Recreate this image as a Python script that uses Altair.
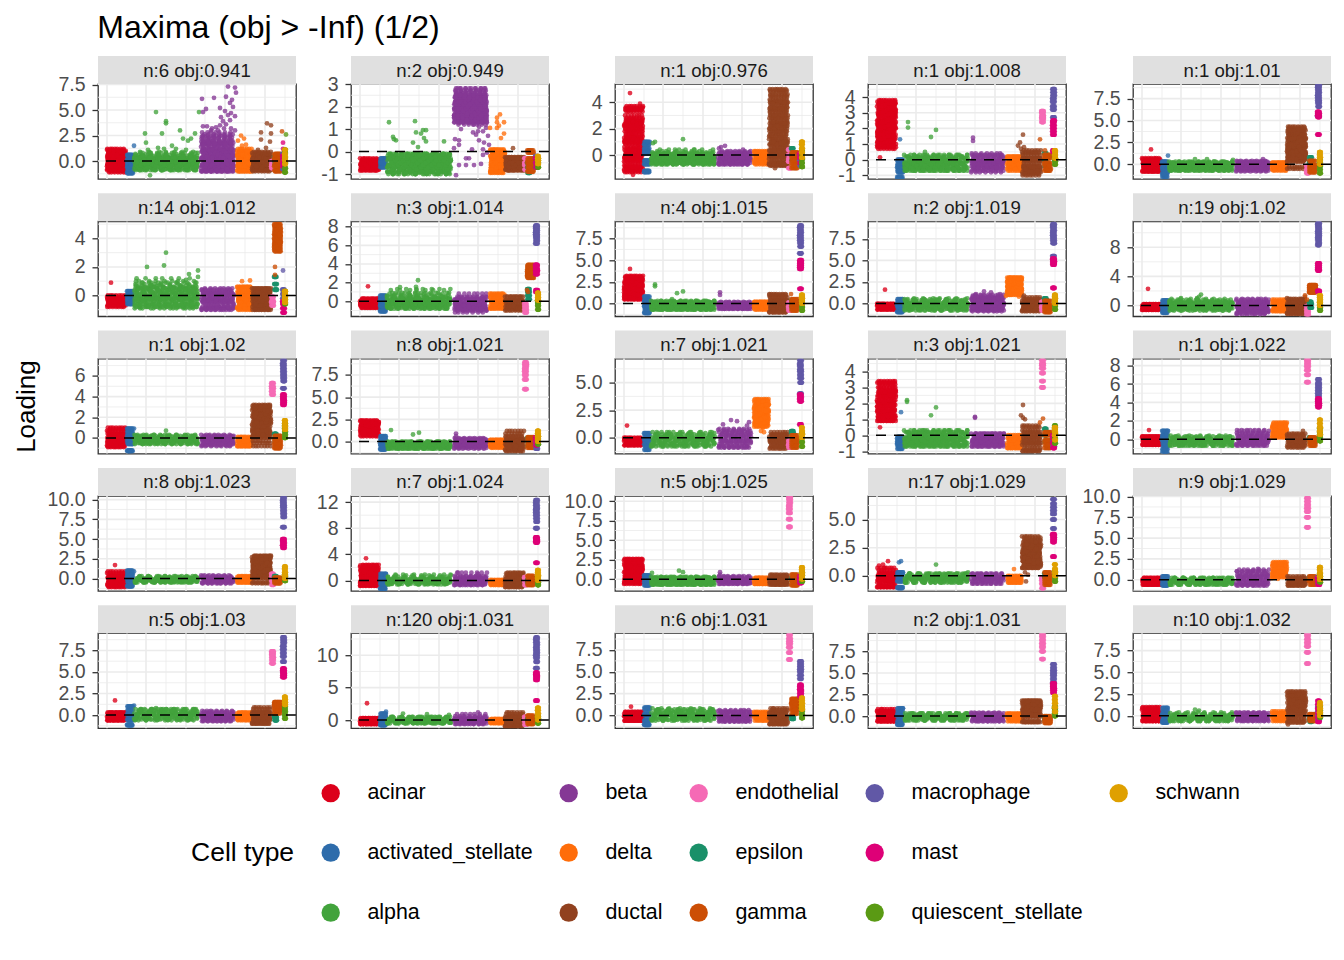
import altair as alt
import pandas as pd

TYPES = ["acinar","activated_stellate","alpha","beta","delta","ductal","endothelial","epsilon","gamma","macrophage","mast","quiescent_stellate","schwann"]
COLORS = ["#DC001A","#2E6CAB","#42A33C","#853895","#FF6D0A","#91411F","#F56AB5","#1A9069","#CC4E05","#6158A6","#DE0077","#5A9A14","#DFA000"]
# the blank entry holds the empty fifth place of the legend's second row
LEGEND_ORDER = ["acinar","beta","endothelial","macrophage","schwann","activated_stellate","delta","epsilon","mast"," ","alpha","ductal","gamma","quiescent_stellate"]
LEGEND_COLORS = [COLORS[TYPES.index(t)] if t in TYPES else "rgba(0,0,0,0)" for t in LEGEND_ORDER]
# cell-index span of each type along the (hidden) x axis
SPAN = {"acinar":(9,28),"activated_stellate":(29,35),"alpha":(36,100),"beta":(103,136),"delta":(139,154),"ductal":(154,173),
        "endothelial":(173,176),"epsilon":(176,179),"gamma":(176,183),"macrophage":(184,187),"mast":(184,187),"quiescent_stellate":(186,188),"schwann":(186,188)}
PHASES = [0,.17,.31,.47,.57,.71,.83]

BG = {
"acinar":[-.5,-.1,.2,-.3,-.7,-.4,.1,.3,-.2,-.6,-.3,.2,0,-.4,-.7,-.2,.1,-.5],
"activated_stellate":[-.3,-.8,-1.1,-.5,.2,.6,.1,-.6,-1,-.3,.4,-.1],
"alpha":[-.5,-.1,.2,-.3,-.7,-.4,0,.3,-.2,-.6,-.3,.1,-.1,-.5,-.7,-.2,.2,-.4,-.6,-.1,.1,-.3,-.7,-.4,0,.3,-.2,-.6,-.3,.1,-.1,-.5,-.7,-.3,.2,-.2,-.6,-.4,.1,-.1,-.5,-.7,-.2,.2,-.3,-.6,0,.3],
"beta":[-.4,0,.3,-.2,-.7,-.5,-.1,.4,0,-.5,-.8,-.3,.2,-.1,-.6,-.4,.1,.3,-.3,-.7,-.2,.2,-.5,-.1],
"delta":[-.5,-.1,.2,-.3,-.7,-.2,.1,-.4,-.6,0,.2,-.3],
"ductal":[-.7,-.2,.3,.1,-.5,-.9,-.4,.2,.6,0,-.6,-.8,-.1,.4],
"endothelial":[-.7,-.3,0,-.5],"epsilon":[-.4,0,.4],"gamma":[-.6,-.2,.2,-.4,0,.4,-.2,-.7],
"macrophage":[-.6,-.3,0,.3],"mast":[-.5,-.2,.2,.5],"quiescent_stellate":[-.7,-.3,0,.3,.6,.9],"schwann":[.1,.4,.7,1,1.3,.8],
}

TITLES = ["n:6 obj:0.941","n:2 obj:0.949","n:1 obj:0.976","n:1 obj:1.008","n:1 obj:1.01","n:14 obj:1.012","n:3 obj:1.014","n:4 obj:1.015","n:2 obj:1.019","n:19 obj:1.02",
"n:1 obj:1.02","n:8 obj:1.021","n:7 obj:1.021","n:3 obj:1.021","n:1 obj:1.022","n:8 obj:1.023","n:7 obj:1.024","n:5 obj:1.025","n:17 obj:1.029","n:9 obj:1.029",
"n:5 obj:1.03","n:120 obj:1.031","n:6 obj:1.031","n:2 obj:1.031","n:10 obj:1.032"]
DOMAINS = [(-1.76,7.55),(-1.22,3.0),(-1.82,5.39),(-1.23,4.83),(-1.67,9.17),(-1.46,5.2),(-1.62,8.58),(-1.47,9.5),(-1.48,9.53),(-1.48,11.57),
(-1.52,7.68),(-1.35,9.34),(-1.45,7.18),(-1.15,4.81),(-1.56,8.76),(-1.57,10.47),(-1.59,12.95),(-1.5,10.69),(-1.34,7.1),(-1.35,10.08),
(-1.52,9.5),(-1.25,13.4),(-1.46,9.42),(-1.4,9.6),(-1.43,9.5)]
T25 = [0,2.5,5,7.5]
TICKS = [T25,[-1,0,1,2,3],[0,2,4],[-1,0,1,2,3,4],T25,[0,2,4],[0,2,4,6,8],T25,T25,[0,4,8],
[0,2,4,6],T25,[0,2.5,5],[-1,0,1,2,3,4],[0,2,4,6,8],[0,2.5,5,7.5,10],[0,4,8,12],[0,2.5,5,7.5,10],[0,2.5,5],[0,2.5,5,7.5,10],
T25,[0,5,10],T25,T25,T25]
GRID_MAJOR_X = [9,48,88,127,167]
GRID_MINOR_X = [29,68,107,147,187]

Y = [{} for _ in TITLES]
OUT = [{} for _ in TITLES]

Y[0] = {
"acinar":[-.9,-.3,.3,.9,.4,-.2,-.8,-.4,.2,.8,1.1,.5,-.1,-.7,-1.1,-.5,.1,.7,1,.4,-.2,-.8,-.5,0,.6,1.2,.6,0,-.6,-1,-.4,.3,.9,.3,-.3,-.9],
"activated_stellate":[-1.1,-.5,.1,.5,-.2,-.8,-1.2,-.6,0,.6,.2,-.4,-1],
"alpha":[-.8,-.4,0,.4,.1,-.3,-.7,-.9,-.5,-.1,.3,.7,.2,-.2,-.6,-.9,-.4,0,.5,.1,-.3,-.8,-.6,-.2,.3,.8,.4,0,-.4,-.8,-.5,-.1,.3,.6,.2,-.2,-.7,-.9,-.4,.1,.5,.2,-.3,-.7,-.5,0,.4,.8,.3,-.1,-.6,-.9,-.3,.2,.6,.9,.4,-.2,-.7,-.5],
"beta":[-1,-.4,.3,1,1.8,1.2,.5,-.2,-.8,-.5,.2,.9,1.6,2.3,1.5,.7,0,-.7,-1,-.3,.4,1.2,2,2.6,1.8,1,.2,-.5,-1,-.4,.3,1.1,1.9,2.4,1.7,.8,0,-.7,-.9,-.2,.6,1.4,2.2,2.8,2,1.2,.4,-.4,-1,-.5,.3,1,1.7,2.5,1.6,.8,0,-.8,-.3,.5],
"delta":[-.9,-.3,.3,.9,.5,-.1,-.7,-1,-.4,.2,.8,1.2,.6,0,-.6,-1,-.5,.1,.7,1,.4,-.2,-.8],
"ductal":[-.9,-.4,.2,.7,.2,-.3,-.8,-1,-.5,.1,.6,.9,.3,-.3,-.8,-.6,-.1,.4,.8,.2,-.4,-.9],
"gamma":[-.9,-.4,.2,.6,.1,-.5,-1,-.3,.3,.7],"macrophage":[-.8,-.3,.2,.7],"quiescent_stellate":[-1.1,-.7,-.2,.3,.8,1.1],"schwann":[-.3,.1,.4,.7,1.1],
}
OUT[0] = {
"alpha":[(58,4.8),(68,3.9),(68,3.7),(47,2.7),(64,2.7),(82,3),(85,2.2),(90,2),(93,2.2),(97,2.7),(101,4.8),(48,1.8),(66,1.2),(74,1.5),(52,-1.4),(50,1.1),(60,1.3),(78,1.2),(88,1.1)],
"activated_stellate":[(36,1.5)],
"beta":[(104,6.1),(116,6.2),(130,7.3),(137,7.2),(138,6.7),(105,4.8),(108,5.1),(122,5.2),(128,6.3),(132,5.7),(135,5.3),(133,4.7),(127,4.9),(137,4.4),(132,4),(123,4.3),(125,3.9),(128,3.6),(109,3.4),(114,3.2),(118,3.3),(122,3.5),(105,3.4),(113,3),(120,3),(133,3.2),(137,3),(130,4.5),(134,6),(126,3.2)],
"delta":[(143,2.5),(146,2.2),(140,2),(148,1.6),(144,1.5)],
"ductal":[(169,3.7),(173,3.5),(163,2.8),(173,2.7),(163,2.1),(172,1.9),(168,1.3),(160,1.1)],
"mast":[(185,1.8),(185,1.2)],"gamma":[(184,2.9)],"quiescent_stellate":[(188,2.6)],
}
Y[1] = {
"acinar":[-.8,-.6,-.4,-.55,-.75,-.85,-.5,-.35,-.6,-.8,-.7,-.45,-.3,-.55,-.8,-.6,-.4,-.7],
"activated_stellate":[-.6,-.4,-.3,-.5,-.7,-.45],
"alpha":[-.9,-.6,-.3,-.1,-.4,-.7,-1,-.8,-.5,-.2,-.1,-.4,-.7,-.9,-.6,-.3,-.15,-.5,-.8,-1,-.7,-.4,-.1,-.3,-.6,-.9,-.8,-.5,-.2,-.1,-.4,-.7,-1,-.6,-.3,-.2,-.5,-.8,-.9,-.6,-.3,-.1,-.4,-.7,-1,-.8,-.5,-.2,-.15,-.4,-.7,-.9,-.6,-.3,-.1,-.5,-.8,-.95,-.7,-.4,-.2,-.3,-.6,-.9,-.8,-.5,-.25,-.4,-.7,-.9,-.6,-.3],
"beta":[1.3,1.6,1.9,2.2,2.6,2.3,2,1.7,1.4,1.2,1.5,1.8,2.1,2.4,2.7,2.4,2.1,1.8,1.5,1.3,1.6,1.9,2.2,2.5,2.8,2.5,2.2,1.9,1.6,1.3,1.5,1.8,2.1,2.4,2.7,2.5,2.2,1.9,1.6,1.4,1.7,2,2.3,2.6,2.8,2.4,2.1,1.8,1.5,1.3,1.6,1.9,2.2,2.5,2.3,2,1.7,1.4,1.6,1.9,2.2,2.4,2.1,1.8,1.5,1.7,2,2.3,1.9,1.6],
"delta":[-.9,-.6,-.3,0,-.2,-.5,-.8,-.95,-.6,-.3,.05,-.2,-.5,-.8,-.7,-.4,-.1,.1,-.3,-.6,-.9,-.7,-.4,-.1],
"ductal":[-.8,-.6,-.4,-.25,-.4,-.6,-.8,-.7,-.5,-.3,-.25,-.5,-.7,-.85,-.6,-.4,-.3,-.5,-.7,-.8],
"endothelial":[-.8,-.5,-.3,-.6],"epsilon":[-.95,-.7,-.5],"gamma":[-.9,-.6,-.3,-.05,-.4,-.7,.05,-.5,-.85],
"macrophage":[-.7,-.5,-.3,-.2],"mast":[-.7,-.5,-.3],"quiescent_stellate":[-.7,-.5,-.4,-.3],"schwann":[-.55,-.4,-.3,-.2],
}
OUT[1] = {
"alpha":[(38,1.3),(64,1.35),(42,.65),(43,.55),(45,.5),(65,.85),(72,.95),(75,.95),(70,.8),(73,.6),(62,.4),(75,.45),(67,.2),(93,.45),(64,-1),(55,-.95)],
"beta":[(105,-1.05),(103,.15),(108,.5),(108,.3),(110,1),(122,1.2),(122,.85),(128,1.1),(125,.75),(132,.9),(128,.5),(137,.7),(133,.4),(138,.3),(132,.1),(115,-.3),(118,-.3),(115,-.6),(123,-.6),(130,-.55),(108,-.6),(132,-.15),(136,-.05),(104,.55),(135,1.05),(127,.9),(121,.1)],
"delta":[(149,1.65),(146,1.5),(153,1.3),(146,1.3),(139,1.05),(146,1.05),(153,.8),(150,.6),(148,1.15)],
"ductal":[(162,.15)],
}
Y[2] = {
"acinar":[-1.2,-.2,1,2.2,3.4,2.4,1.2,0,-1,-.5,.6,1.8,3,2,.8,-.4,-1.1,-.2,1,2.4,3.5,2.6,1.4,.2,-.8,-.3,.9,2,3.6,2.2,1,-.2,-1.3,0,1.2,2.5,3.3,2.2,1.3,.4,-.6,-.9,.3,1.6,2.8,3.7,2.3,1.1,-.1,-.9,.1,1.5,2.7,1.8,.5],
"activated_stellate":[-1.2,-.6,.2,.8,.1,-.7,-1.3,-.4,.5,1,.3,-.5],
"alpha":[-.6,-.3,-.1,-.5,-.7,-.3,0,-.4,-.7,-.2,.1,-.4,-.6,-.2,0,-.5,-.7,-.3,.1,-.4,-.6,-.2,.05,-.5,-.7,-.3,.2,-.4,-.6,-.1,.1,-.5,-.7,-.3,.1,-.4,-.6,0,.2,-.3,-.6,-.2,.1,-.4,.3,-.2,.4,-.1],
"beta":[-.6,-.2,.2,-.3,-.7,-.4,0,.1,-.3,-.6,-.2,.2,-.4,-.7,-.2,.1,-.3,-.6,-.1,.3,-.4,-.7,-.2,.1],
"delta":[-.6,-.2,.2,-.4,-.7,-.1,.3,-.4,-.6,0,.2,-.3],
"ductal":[-.7,.8,2.4,4,4.8,3.4,1.8,.2,-.8,-.2,1.2,2.8,4.2,4.9,3.6,2.2,.6,-.6,0,1.5,3.2,4.5,3.9,2.5,1,-.5,-.7,.4,2,3.6,4.6,3,1.4,-.1,-.8,.8,2.2,3.8,4.4,2.8,1.2,-.3,.3,1.8,3.3,4.1,2.6,.9,-.6,.5,2,3.5,5,3,1.6,.1,-.7,1,2.4,4],
"endothelial":[-1,-.5,0,.4,-.3],"epsilon":[-.4,0,.5],"gamma":[-1,-.6,-.2,.2,-.4,-.8,0],
"macrophage":[-.8,-.4,0],"mast":[-.6,-.2,.1],"quiescent_stellate":[-.9,-.6,-.3,0,.3],"schwann":[-.2,.2,.5,.8,1],
}
OUT[2] = {"acinar":[(15,4.7),(18,-1.5),(25,3.9),(27,3.6)],"alpha":[(38,.9),(40,1),(47,.3),(68,1.2),(60,.4),(79,.4)],"beta":[(106,.6),(110,.7),(128,.4),(104,.5)],"ductal":[(160,-1)],"epsilon":[(177,.4)]}
Y[3] = {
"acinar":[.9,1.5,2.2,2.9,3.5,2.8,2.1,1.4,.8,1.1,1.8,2.5,3.2,3.6,3,2.3,1.6,.9,.7,1.3,2,2.7,3.4,3.7,3,2.3,1.6,1,.8,1.4,2.1,2.8,3.5,3.8,3.1,2.4,1.7,1.1,1.5,2.2,2.9,3.6,3.2,2.5,1.8,1.2,1.9,2.6,3.3,3.7,2.8,2],
"activated_stellate":[-1.2,-.8,-.4,0,-.3,-.7,-1.1,-.5,-.1],
"alpha":BG["alpha"],
"ductal":[-.8,-.4,.1,.5,.1,-.5,-.9,-.6,-.1,.3,.6,.1,-.4,-.8,-1,-.5,0,.4,-.2,-.7],
"gamma":[-.7,-.3,.1,.3,-.2,-.6,.2,-.4],
"endothelial":[2.4,2.6,2.8,3,3.1,2.7],"macrophage":[2.7,3.2,3.4,3.7,3.9,4.1,4.3,4.5],"mast":[1.6,1.8,2,2.2,2.4,2.5,.5,.6],
"quiescent_stellate":[-.3,-.1,.1,.3],"schwann":[.1,.3,.5,.6],
}
OUT[3] = {"alpha":[(40,2.4),(40,2.05),(68,1.9),(63,1.45),(57,.5)],"beta":[(105,1.4),(105,1.2)],"activated_stellate":[(32,1.3)],"acinar":[(12,.15)],"ductal":[(150,.9),(155,1.6),(152,1.1),(153,.7),(156,.8)],"gamma":[(172,1.3),(177,.6)]}
Y[4] = {
"acinar":[-.8,-.3,.3,.7,.1,-.6,-.8,-.2,.4,.6,0,-.7,-.4,.2,.5,-.3,-.8,.1,.4,-.5],
"activated_stellate":[-1.4,-.9,-.3,.2,-.4,-1.1,-.7,.1,.3,-.6],
"ductal":[.3,1.2,2.2,3.3,4.2,3.4,2.3,1.2,.4,.8,1.8,2.8,3.9,3,1.9,.9,.5,1.3,2.1,2.9,2.2,1.4,.7,1.1,2,3,3.8,4.3,3.4,2.3,1.3,.6,1.5,2.5,3.6,4,3,2,1,-.5,1.7,2.7,1.6,.8,-.3,2.4,1.4],
"endothelial":[-1,-.6,-.2,-.8],"epsilon":[.4,.8,.2],"gamma":[-.9,-.5,-.1,.4,-.3,-.7],
"macrophage":[5.5,6.6,7,7.3,7.6,7.9,8.2,8.5,8.8,9],"mast":[5.4,5.6,5.8,6,3.4],"quiescent_stellate":[-1,-.6,-.2,.2,.5],"schwann":[0,.4,.8,1.1,1.4],
}
OUT[4] = {"acinar":[(18,1.7)],"activated_stellate":[(35,1)],"alpha":[(62,.6),(74,.6),(100,.5)],"beta":[(130,.6)]}
Y[5] = {
"acinar":[-.7,-.4,-.1,-.3,-.6,-.8,-.5,-.2,0,-.4,-.7,-.5,-.1,-.3,-.7,-.2,-.5,-.6],
"activated_stellate":[-.6,-.3,0,.3,-.1,-.5,.1,-.4],
"alpha":[-.7,-.2,.3,-.1,-.6,-.9,-.3,.2,.6,.1,-.5,-.8,-.2,.4,.7,.1,-.6,-.9,-.4,.2,.5,0,-.5,-.8,-.3,.3,.6,0,-.6,-.8,-.2,.4,.7,.2,-.4,-.8,-.2,.5,.9,.3,-.3,-.7,-.1,.6,1,.5,-.2,-.6,0,.8,1.2,.5,-.3,-.7,.1,.9,.4,-.2],
"beta":[-.9,-.4,.1,.5,.1,-.3,-.8,-.5,0,.4,.2,-.3,-.9,-1,-.5,0,.4,.1,-.4,-.9,-.6,-.1,.3,-.2,-.7,-1,-.4,.2,-.3,-.8],
"delta":[-.9,-.4,.1,.6,.2,-.3,-.8,-1,-.5,0,.5,.3,-.2,-.7,-.9,-.3,.2,.6,0,-.6],
"ductal":[-.8,-.3,.2,.5,.1,-.5,-1,-.6,-.1,.3,.5,-.2,-.7,-1,-.4,.1,.4,-.1,-.6,-.9],
"endothelial":[-.7,-.4,-.1,-.5],"gamma":[3.2,3.7,4.2,4.7,5,4.5,4,3.5,3.1,3.4,3.9,4.4,4.9,4.6,4.1,3.6,3.3,3.8,4.3,4.8,4.2,3.7],
"epsilon":[.4,.8,1.3],"macrophage":[-.5,-.2,.1,.4],"mast":[-1.2,-.9,-.6,-.4],"schwann":[-.5,-.3,-.1,.1,.3],"quiescent_stellate":[-.6,-.3,0,.3],
}
OUT[5] = {"acinar":[(13,.9)],"alpha":[(49,2),(66,2.1),(68,3),(53,.75),(59,.65),(38,1),(100,1.75),(91,1.5),(80,1),(88,1.1),(100,1.3)],"delta":[(152,1.05),(144,1)],"gamma":[(177,2),(177,1.45)],"macrophage":[(185,1.75)]}
Y[6] = {
"alpha":[-.7,-.3,.1,-.2,-.6,-.8,-.4,0,.3,-.2,-.6,-.7,-.2,.2,.5,0,-.5,-.8,-.3,.1,.4,-.1,-.6,-.7,-.3,.2,.6,.1,-.4,-.8,-.3,.3,.7,.2,-.4,-.7,-.1,.5,.9,.3,-.3,-.6,.1,.8,1.2,.5,-.2,.2,.9,1.3],
"beta":[-.9,-.3,.3,.8,.2,-.5,-1,-.7,-.1,.5,.1,-.5,-.9,-1.2,-.6,0,.4,-.2,-.7,-1,-.3,.2,-.4,-.8],
"delta":[-.7,-.1,.5,.8,.1,-.5,-.8,-.2,.4,.7,0,-.6],
"ductal":[-.9,-.4,.1,.5,0,-.6,-1,-.5,.1,.5,-.2,-.8],
"endothelial":[-1.2,-.9,-.6,-.3],"epsilon":[.2,.6,1,1.3],
"gamma":[2.6,3,3.4,3.8,3.3,2.9,2.5,2.8,3.2,3.6,3.9,3.4,3,2.7,3.1,3.7],
"macrophage":[6.2,6.5,6.8,7,7.2,7.4,7.6,7.8,8,8.1],"mast":[2.9,3.2,3.5,3.8,3.9,3.3,1.2,1],"quiescent_stellate":[-.9,-.5,-.2,.1],"schwann":[.1,.4,.7,.9],
}
OUT[6] = {"acinar":[(17,1.6)],"alpha":[(49,1.5),(65,1.55),(67,2.25)],"gamma":[(176,1.2),(177,1)]}
Y[7] = {
"acinar":[.5,1,1.6,2.2,2.8,2.2,1.6,1,.5,.8,1.4,2,2.6,3.1,2.5,1.9,1.3,.7,.6,1.2,1.8,2.4,3,2.6,2,1.4,.8,1.1,1.7,2.3,2.9,3.2,2.4,1.6,1,1.5,2.1,2.7],
"activated_stellate":[-1.1,-.7,-.2,.4,.8,.2,-.5,-1,-.3,.3],
"alpha":BG["alpha"],"beta":[-.6,-.3,0,-.2,-.5,-.1,.1,-.4,-.6,-.2,.1,-.3,-.6,-.4,0,.2,-.2,-.5,-.1,-.4],
"ductal":[-1,-.4,.3,1,.4,-.2,-.9,-.7,0,.7,1.1,.3,-.4,-1,-.5,.2,.8,.1,-.6],
"gamma":[-.8,-.3,.2,.5,-.1,-.6,.3],"endothelial":[-.8,-.3,.1,-.5],
"macrophage":[5.8,6.6,7,7.3,7.6,7.9,8.2,8.5,8.8,9],"mast":[4,4.2,4.4,4.6,4.8,5,1.7],"quiescent_stellate":[-.8,-.4,0,.3],"schwann":[0,.3,.6,.8,1],
}
OUT[7] = {"acinar":[(15,4)],"alpha":[(40,2),(40,2.2),(62,1.2),(68,1.4),(57,.5),(55,.2)],"beta":[(105,1.3),(105,1)],"gamma":[(176,1.1)]}
Y[8] = {
"acinar":[-.7,-.4,-.1,-.3,-.6,-.2,0,-.5,-.7,-.3,-.1,-.5],
"activated_stellate":[-1,-.5,0,.5,.1,-.4,-.9,-.2,.3],
"alpha":[-.8,-.3,.1,-.2,-.6,-.4,0,.3,-.2,-.6,-.8,-.3,.1,.4,-.1,-.5,-.7,-.2,.2,.5,0,-.6,-.7,-.2,.1,-.3,-.6,-.1,.3,-.3,-.8,-.4,.1,.5,0,-.5,-.7,-.1,.4,.6],
"beta":[-.8,-.3,.2,.6,.1,-.4,-.9,-.5,0,.5,.8,.3,-.2,-.7,-.6,0,.6,.9,.3,-.3,-.8,-.4,.2,.7,1,.4,-.2,-.7,0,.6],
"delta":[1.1,1.5,1.9,2.4,2.9,2.5,2,1.6,1.2,1.4,1.8,2.3,2.8,3,2.6,2.1,1.7,1.3,1,1.6,2.2,2.7,3,2.4,1.8,1.2,1.5,2,2.6,2.9,2.3,1.7],
"ductal":[-.8,-.3,.3,.7,.1,-.5,-.9,-.6,0,.5,.3,-.3,-.8,-.5,.1],
"endothelial":[-.8,-.3,.2,-.5],"epsilon":[.1,.4,.6],"gamma":[-1,-.6,-.2,.3,-.4,-.8],
"macrophage":[5.5,7,7.3,7.6,7.9,8.2,8.5,8.8,9,9.2],"mast":[4.5,4.7,4.9,5.1,5.2,1.8],"quiescent_stellate":[-.7,-.3,.1,.4],"schwann":[0,.3,.6,.8,1],
}
OUT[8] = {"acinar":[(17,1.6)],"beta":[(116,1.4),(123,1.3),(132,1.1),(108,1.1)],"delta":[(138,.9),(142,1),(151,.8)],"ductal":[(156,.9)]}
Y[9] = {
"acinar":[-.6,-.3,.1,-.2,-.5,-.1,.2,-.4,-.6,-.2,.1,-.3,-.5,0,.2,-.3],
"activated_stellate":[-1,-.5,.1,.7,.2,-.4,-.8,-.1,.5],
"alpha":[-.7,-.2,.3,-.1,-.5,-.3,.2,.5,0,-.6,-.2,.3,.6,.1,-.4,-.7,-.1,.4,.2,-.5,-.3,.2,.1,-.4,-.6,0,.5,.2,-.4,-.2,.4,.7,.1,-.3,.2,.7,.9,.3,-.2,.3,.8,.4],
"beta":[-1.2,-.6,0,.5,.9,.2,-.5,-1,-.4,.3,.7,.1,-.7,-1.1,-.3,.4,.8,-.1,-.6,-.9,-.2,.5,-.3,-.8],
"delta":[-.8,-.2,.4,.8,.1,-.5,-.7,0,.6,.2,-.4],
"ductal":[-1.2,-.5,.2,.8,.1,-.6,-1.1,-.4,.4,.9,0,-.8,-1,-.2,.5],
"endothelial":[-1.3,-.9,-.5,-.1],"epsilon":[-.3,.2,.5],
"gamma":[1.8,2.1,2.4,2.7,2.8,2.5,2.2,1.9,1.8,2.2,2.6,2.8,2.5,2.1],
"macrophage":[8.3,8.6,9,9.3,9.6,9.9,10.2,10.5,10.8,11.1,11.3],"mast":[5,5.2,5.5,5.8,4.8,2,1.9],"quiescent_stellate":[-.7,-.3,.1,.5],"schwann":[0,.4,.8,1.1,1.4],
}
OUT[9] = {"acinar":[(15,2.3)],"alpha":[(48,1),(64,1),(68,1.5),(66,1.2)],"ductal":[(154,1),(168,.9),(172,1.2)],"gamma":[(172,1.4),(174,.8)]}
Y[10] = {
"acinar":[-.8,-.3,.3,.9,.4,-.2,-.7,-.5,.1,.7,1,.3,-.3,-.8,-.6,0,.6,.2,-.4,-.9,-.3,.3],
"activated_stellate":[-1.2,-.6,0,.6,.9,.2,-.5,-1.3,-.3,.4],
"alpha":[-.6,-.3,0,.2,-.2,-.5,-.3,.1,-.1,-.5,-.2,.2,0,-.4,-.6,-.1,.3,-.2,-.5,-.2,.1,-.3,-.6,-.1,.2,-.2,-.5,0,.3,-.2,-.5,-.1,.2,-.3],
"beta":[-.7,-.3,.1,-.1,-.5,-.8,-.3,.2,0,-.5,-.7,-.2,.3,-.1,-.6,-.3,.2,-.2],
"delta":[-.8,-.4,0,-.2,-.6,-.8,-.3,.1,-.3,-.7],
"ductal":[.1,.8,1.6,2.4,3.1,2.5,1.7,.9,.2,-.5,.5,1.3,2.1,2.9,3.2,2.4,1.5,.7,0,-.8,.4,1.2,2,2.8,3,2.2,1.4,.6,-.3,.3,1.1,1.9,2.7,3.1,2.3,1.5,.7,1.8,2.6],
"gamma":[-1,-.7,-.3,.2,-.5,-.9,-.2,-.6,0],"endothelial":[4.2,4.5,4.8,5,5.3],
"macrophage":[4.8,5.5,5.8,6.1,6.4,6.7,7,7.2,7.5],"mast":[3.2,3.4,3.6,3.8,4,4.2],"quiescent_stellate":[0,.3,.6,.9,1.2,1.4],"schwann":[.8,1.1,1.4,1.7],
}
OUT[10] = {"activated_stellate":[(36,.9)],"alpha":[(68,.7)]}
Y[11] = {
"acinar":[.7,1.1,1.5,2,2.3,1.9,1.4,1,.6,.9,1.3,1.8,2.2,2.4,1.8,1.2,.8,1.2,1.7,2.2,1.6,1,1.4,2],
"activated_stellate":[-.9,-.5,0,.6,.2,-.4,-.8,-.2,.4],
"alpha":[-.8,-.4,0,-.3,-.7,-.5,-.1,-.4,-.8,-.3,0,-.5,-.7,-.2,-.6,-.8,-.3,0,-.4,-.7,-.2,-.5,-.8,-.1,-.4,-.7,-.3,0,-.5,-.8,-.3,-.1,-.6,-.4],
"ductal":[-1,-.4,.2,.9,.3,-.3,-1.1,-.6,.1,1.2,.5,-.2,-.9,-.5,.1,.6,-.1,-.8],
"gamma":[-.7,-.3,.2,.5,0,-.5,.3],"endothelial":[5.9,7,7.5,7.9,8.2,8.5,8.7,8.9],"mast":[-.4,0,.3,.5],"macrophage":[-.8,-.4,0],
"quiescent_stellate":[-.3,0,.3,.6],"schwann":[0,.3,.6,.9,1.2],
}
OUT[11] = {"alpha":[(40,1.3),(62,.8),(68,1)],"beta":[(105,.9),(105,.6)]}
Y[12] = {
"acinar":[-.7,-.4,-.1,-.3,-.6,-.2,0,-.5,-.7,-.3,-.1,-.5],
"activated_stellate":[-1.1,-.6,-.1,.4,-.2,-.8,-.3,.2],
"alpha":[-.8,-.4,0,.3,-.1,-.5,-.7,-.2,.2,.4,0,-.6,-.8,-.3,.1,.5,0,-.5,-.7,-.2,.3,.1,-.4,-.8,-.3,.2,.5,-.1,-.6,-.7,-.1,.3,-.2,-.6],
"beta":[-.9,-.3,.3,.7,.1,-.5,-.8,-.2,.4,.8,.1,-.6,-.9,-.3,.5,.2,-.4,-.8,-.1,.6],
"delta":[1,1.4,1.9,2.4,3,3.4,2.9,2.3,1.8,1.2,1.5,2,2.6,3.2,3.5,2.7,2.1,1.6,1.1,1.7,2.3,2.9,3.3,2.5,1.9,1.3,1.8,2.4,3],
"ductal":[-1,-.5,.1,.5,-.1,-.7,-.9,-.3,.3,-.2,-.8,-.4,.2],
"endothelial":[-.9,-.6,-.3,-.7],"epsilon":[.1,.4,.6],"gamma":[-.9,-.5,-.1,.2,-.3,-.7],
"macrophage":[4,5,5.4,5.7,6,6.2,6.5,6.7,7],"mast":[3.3,3.5,3.7,3.9,1.2],"quiescent_stellate":[-.8,-.4,0,.4],"schwann":[0,.3,.6,.9],
}
OUT[12] = {"acinar":[(12,1.1)],"beta":[(116,1.6),(122,1.5),(134,1.4),(132,1.1),(108,1.2)],"delta":[(141,1.1),(148,.9),(146,.6),(149,.5)]}
Y[13] = {
"acinar":[.9,1.4,2,2.6,3.2,2.7,2.1,1.5,1,1.2,1.8,2.4,3,3.4,2.8,2.2,1.6,1.1,.9,1.5,2.1,2.7,3.3,3,2.4,1.8,1.2,1.6,2.2,2.8,3.3,2.5,1.9,1.3,1.9,2.5],
"activated_stellate":[-.85,-.6,-.4,-.2,-.5,-.7,-.3,-.1],
"alpha":BG["alpha"],"beta":[-.7,-.4,-.1,.1,-.3,-.6,-.5,-.1,.1,-.4,-.7,-.3,0,-.5,-.7,-.2,.1,-.4,-.6,-.2],
"delta":[-.8,-.4,0,-.2,-.6,-.8,-.3,-.1,-.5,-.7],
"ductal":[-1,-.5,0,.5,.2,-.4,-.9,-.6,-.1,.6,.1,-.5,-1,-.3,.3,-.2,-.8],
"gamma":[-.8,-.4,0,.2,-.3,-.6,.1],"endothelial":[3,3.4,3.9,4.2,4.5,4.7,4.4],"macrophage":[-.7,-.4,-.1],"mast":[-.8,-.5,-.2,0],"quiescent_stellate":[-.5,-.2,.1,.4,.6],"schwann":[-.3,0,.2,.4,.5],
}
OUT[13] = {"acinar":[(12,.5)],"activated_stellate":[(33,1.45)],"alpha":[(39,2.2),(39,2.1),(68,1.75),(63,1.25),(54,.3),(77,.3)],"beta":[(107,1.15),(107,1.1)],"ductal":[(155,1.9),(153,1.25),(155,1.1),(157,1)],"gamma":[(172,.8),(175,1.05)]}
Y[14] = {
"acinar":[-.6,-.3,0,.3,-.1,-.5,-.6,-.2,.2,0,-.4,-.6,-.1,.3,-.3,-.5],
"activated_stellate":[-1.4,-.8,-.2,.4,.9,.2,-.5,-1.1,-.1,.5],
"alpha":[-.7,-.3,.1,.3,-.1,-.5,-.7,-.2,.2,.4,0,-.6,-.3,.1,-.2,-.6,-.2,.2,0,-.5,-.7,-.3,.1,.3,-.2,-.6,-.1,.2,-.4,-.7],
"beta":[-.7,-.2,.3,.7,.1,-.5,-.7,-.1,.5,.9,.2,-.4,-.6,0,.6,1,.3,-.3],
"delta":[.3,.7,1.1,1.5,1.8,1.4,1,.6,.2,.5,.9,1.3,1.7,1.2,.8,.4],
"ductal":[-.9,-.4,.1,.5,-.1,-.6,-.8,-.2,.3,.6,-.3,-.7],
"endothelial":[6.2,7,7.5,7.9,8.2,8.5,8.7],"gamma":[-.7,-.3,.1,-.1,-.5,.2],"epsilon":[-.3,0,.2],
"macrophage":[4.7,5,5.3,5.6,5.9,6.1,6.5],"mast":[3.5,3.7,3.9,4.1,4.3,4.4],"quiescent_stellate":[-.2,.2,.5,.8,1.2],"schwann":[.5,.9,1.3,1.7,2.1],
}
OUT[14] = {"acinar":[(16,1)],"activated_stellate":[(35,.9)],"ductal":[(170,.9)]}
Y[15] = {
"acinar":[-.8,-.3,.2,.7,.1,-.5,-.9,-.4,.3,.9,.2,-.6,-1,-.5,.1,.5,-.2,-.8,-1.1,-.6],
"activated_stellate":[-1,-.5,.1,.7,1,.3,-.4,-.9,-.1,.5],
"alpha":[-.5,-.2,.1,-.1,-.4,-.3,0,.2,-.2,-.5,-.1,.2,0,-.4,-.2,.1,-.3,-.5,-.1,.3,0,-.4,-.2,.1,-.3,-.5,0,.3,-.2,-.4],
"beta":[-.6,-.2,.2,-.1,-.5,-.3,.1,.4,0,-.4,-.6,-.1,.3,-.2],
"delta":[-.5,-.1,.2,-.2,-.5,0,.3,-.3],
"ductal":[-.6,.4,1.1,1.8,2.5,2.8,2.1,1.4,.7,0,.5,1.2,1.9,2.6,2.9,2.2,1.5,.8,.1,-.5,.6,1.3,2,2.7,2.4,1.6,.9,.2,.9,1.7,2.4,2.8,2,1.1],
"endothelial":[-.8,-.3,.3,.6],"gamma":[-.6,-.3,0,.1,-.4,-.2],"epsilon":[-.2,.1,.3],
"macrophage":[6.5,7.8,8.2,8.6,9,9.3,9.6,9.9,10.2],"mast":[3.9,4.2,4.5,4.8,5],"quiescent_stellate":[-.3,0,.3,.5],"schwann":[0,.4,.8,1.2,1.5],
}
OUT[15] = {"acinar":[(17,1.7)],"activated_stellate":[(36,.9)]}
Y[16] = {
"acinar":[-.8,0,.9,1.7,2.4,1.6,.7,-.2,-.8,-.3,.5,1.3,2.1,1.5,.6,-.4,-.7,.1,1,1.9,2.3,1.2,.3,-.6,-.2,.8,1.8,1,.1],
"activated_stellate":[-1.3,-.7,0,.6,1,.3,-.5,-1.2,-.2],
"alpha":[-.6,-.2,.2,.6,.1,-.4,-.5,-.1,.3,-.2,-.6,-.2,.3,.9,.2,-.4,-.1,.5,.1,-.5,-.2,.2,.6,-.1,-.5,.1,.8,.2,-.4,-.1,.3,-.3],
"beta":[-.7,-.2,.3,.7,.1,-.4,-.6,-.1,.5,1.2,.2,-.5,-.7,0,.6,.1,-.4,.3],
"delta":[-.7,-.3,.1,-.2,-.6,-.4,0,-.3],
"ductal":[-1,-.3,.5,1.1,.2,-.6,-1,-.2,.6,.9,-.1,-.8,-.5,.3,1.2],
"endothelial":[-.7,-.2,.3,.5],"gamma":[-.7,-.2,.4,.7,0,-.5],"epsilon":[-.3,.1],
"macrophage":[8,9,9.5,10,10.4,10.8,11.1,11.5,11.9,12.3],"mast":[5.8,6,6.2,6.4,6.6,2.7],"quiescent_stellate":[-.7,-.3,.1,.6],"schwann":[0,.4,.8,1.2,1.6],
}
OUT[16] = {"acinar":[(15,3.4)],"activated_stellate":[(35,1)],"beta":[(107,1.2),(127,1)]}
Y[17] = {
"acinar":[-.5,.3,1.1,1.9,2.5,1.8,1,.2,-.6,0,.8,1.6,2.4,2.6,1.7,.9,.1,-.4,.4,1.2,2,2.5,1.5,.6,-.3,.5,1.4,2.2,1.3],
"activated_stellate":[-.8,-.4,0,.5,.2,-.3,-.7,.1],
"alpha":BG["alpha"],"beta":[-.6,-.2,.2,-.1,-.5,-.3,.1,.4,-.2,-.6,-.1,.3,-.4,-.2,.2,-.5],
"delta":[-.6,-.2,.1,-.3,-.6,-.1,.2,-.4],
"ductal":[-.7,-.3,.1,.5,-.1,-.6,-.4,0,.6,.2,-.4,-.7,-.1,.3],
"endothelial":[6.7,7.7,8.5,9,9.4,9.8,10.2,10.5],"gamma":[-.8,-.3,.2,.6,-.2,-.7],"epsilon":[-.2,.1],
"macrophage":[-.4,-.1,.2],"mast":[-.5,-.1,.2,.4],"quiescent_stellate":[-.3,.1,.5,.9],"schwann":[0,.4,.8,1.2,1.5],
}
OUT[17] = {"alpha":[(64,1.1),(68,.9),(37,.8)],"beta":[(105,.9),(105,.6)]}
Y[18] = {
"acinar":[-1,-.4,.2,.7,.1,-.6,-1,-.5,0,.5,-.1,-.8,-1,-.3,.3,-.4,-.9,-.2],
"activated_stellate":[-1.1,-.5,.1,.3,-.4,-1,-.2],
"alpha":[-.6,-.2,.1,-.1,-.5,-.3,0,.2,-.2,-.6,-.1,.2,-.3,-.5,0,.2,-.2,-.6,-.3,.1,-.1,-.5,-.2,.1,-.4,-.6,-.1,.2,-.3,-.5],
"beta":[-.7,-.3,.1,-.1,-.5,-.2,.2,-.3,-.7,-.1,.2,-.4,-.6,-.1],
"delta":[-.6,-.2,0,-.4,-.6,-.1,-.3],
"ductal":[.7,1.3,1.9,2.5,3.1,2.6,2,1.4,.8,1,1.6,2.2,2.8,3.4,2.8,2.1,1.5,.9,.7,1.3,1.9,2.5,3.2,3.5,2.7,2,1.4,1.1,1.7,2.3,3,2.4,1.7,1.2],
"endothelial":[-1.1,-.7,-.4,-.2],"gamma":[-.8,-.4,0,.3,-.2,-.6],"epsilon":[-.1,.2],
"macrophage":[4.2,5,5.5,5.8,6.1,6.4,6.8],"mast":[3,3.2,3.4,3.6,3.7,1.7],"quiescent_stellate":[-.5,-.2,.1,.4],"schwann":[0,.3,.6,1],
}
OUT[18] = {"acinar":[(11,.9),(15,1),(20,1.3),(17,.7)],"activated_stellate":[(31,1.2),(33,1.3),(35,.3)],"alpha":[(68,1),(100,.3)],"delta":[(146,.6)],"ductal":[(157,.3),(160,.1),(158,-.5)]}
Y[19] = {
"acinar":[-.6,-.3,0,.2,-.2,-.5,-.6,-.1,.2,-.3,-.6,0,-.4],
"activated_stellate":[-.7,-.4,0,.4,-.1,-.6,.2],
"alpha":[-.6,-.2,.1,-.1,-.5,-.3,.2,0,-.4,-.6,-.1,.2,-.3,-.5,0,.2,-.2,-.6,-.3,.1,-.1,-.5,-.2,.1,-.4,-.6,-.1,.2,-.3,-.5],
"beta":[-.7,-.1,.5,1,.3,-.4,-.7,0,.6,1.2,.4,-.3,-.6,.1,.7,1,.2,-.5],
"delta":[.4,.8,1.2,1.7,2.1,1.7,1.2,.8,.3,.6,1,1.5,2,1.8,1.3,.9,.5],
"ductal":[-.7,-.3,.1,.4,-.1,-.5,-.7,-.2,.2,-.4,-.6],
"endothelial":[6.3,7.5,8.2,8.6,9,9.4,9.8],"gamma":[-.6,-.2,.1,.4,-.1],"epsilon":[.1,.3],"macrophage":[-.5,-.1,.3],"mast":[-.6,-.2,.2],"quiescent_stellate":[-.3,.1,.4,.7],"schwann":[0,.4,.8,1.2,1.5],
}
OUT[19] = {"beta":[(120,1.1),(125,1.3),(117,.9),(132,.8)],"delta":[(139,.2),(145,.1)]}
Y[20] = {
"acinar":[-.6,-.2,.2,-.1,-.5,-.3,.1,.3,-.2,-.6,-.1,.2,-.4,-.6,0,.3],
"activated_stellate":[-1.2,-.6,0,.6,1,.2,-.5,-1.1,-.1],
"alpha":[-.6,-.1,.4,.7,.1,-.4,-.5,0,.5,.2,-.3,-.6,-.1,.4,.7,.2,-.4,-.5,.1,.6,.3,-.3,-.5,0,.5,.7,.1,-.4,-.2,.3,.6,.1],
"beta":[-.7,-.2,.3,-.1,-.5,-.4,.1,.5,0,-.6,-.3,.2,.4,-.2,-.7,-.1],
"delta":[-.6,-.2,.2,-.1,-.5,-.3,.3,-.2],
"ductal":[-1,-.4,.2,.7,.1,-.6,-1,-.3,.4,.9,.2,-.5,-.9,-.2,.3],
"endothelial":[6,6.4,6.7,7,7.2,7.4],"gamma":[.2,.5,.8,1.1,1.4,1.5,1.2,.9,.6,1,1.3,1.5],"epsilon":[-.6,-.3,-.1],
"macrophage":[6.2,6.8,7.2,7.6,8,8.4,8.7,9],"mast":[4.4,4.6,4.8,5,5.2,5.4],"quiescent_stellate":[-.4,0,.4,.7,1],"schwann":[1.2,1.5,1.8,2.1],
}
OUT[20] = {"acinar":[(17,1.7)],"activated_stellate":[(36,1.1)],"alpha":[(58,.8),(68,.7)]}
Y[21] = {
"acinar":[-.6,-.2,.2,-.1,-.5,-.3,.1,.3,-.2,-.6,-.1,.2,-.4,-.6,0,.3],
"activated_stellate":[-.8,-.2,.4,1,.3,-.5,-.7,0,.7],
"alpha":[-.5,-.1,.3,-.1,-.4,-.2,.2,.5,0,-.5,-.1,.4,.1,-.4,-.2,.2,.5,0,-.5,-.1,.3,-.3,-.5,.1,.4,0,-.4,-.2,.2,.5,-.1,-.4],
"beta":[-.6,-.1,.4,.1,-.5,-.3,.2,.6,0,-.6,-.2,.3,.9,.1,-.4,.2],
"delta":[-.5,-.2,.1,-.1,-.4,-.3,.2,-.2],
"ductal":[-1,-.4,.3,.9,.2,-.6,-1,-.3,.5,1.2,.4,-.6,-.9,-.2,.6],
"endothelial":[-.7,-.2,.3,.5],"gamma":[-.6,-.1,.4,.7,0,-.4],"epsilon":[-.1,.2],
"macrophage":[8,9,9.6,10,10.4,10.8,11.2,11.6,12,12.4,12.7],"mast":[6.2,6.5,6.8,7,7.3,3],"quiescent_stellate":[-.5,-.1,.3,.6],"schwann":[0,.5,1,1.5,1.9],
}
OUT[21] = {"acinar":[(16,2.6)],"activated_stellate":[(35,1.3)],"alpha":[(52,1),(76,.9),(98,.8)],"beta":[(127,1.2)]}
Y[22] = {
"acinar":[-.6,-.2,.2,.4,-.1,-.5,-.6,-.1,.3,-.2,-.6,.1,.4,-.3],
"activated_stellate":[-1.1,-.5,.1,.7,.9,.2,-.6,-1,0],
"alpha":[-.6,-.1,.4,.7,.1,-.4,-.5,0,.5,.3,-.3,-.6,-.1,.4,.8,.2,-.4,-.5,.1,.6,.3,-.3,-.5,0,.5,.7,.1,-.4,-.2,.3,.7,.2],
"beta":[-.7,-.2,.4,.6,0,-.6,-.4,.2,.5,-.2,-.7,-.1,.4,-.3,-.6,.1],
"delta":[-.6,-.2,.3,.4,-.1,-.5,-.3,.2],
"ductal":[-1,-.4,.3,.8,.2,-.6,-1,-.3,.4,.6,-.2,-.8,-.9,-.1],
"endothelial":[6.4,7.2,7.8,8.2,8.5,8.8,9.2],"gamma":[.2,.6,1,1.4,1.8,1.9,1.5,1.1,.7,1.3,1.7],"epsilon":[-.4,-.1],
"macrophage":[4.2,4.6,5,5.3,5.6,5.9,6.2],"mast":[2.2,2.5,2.8,3,3.3,3.5],"quiescent_stellate":[-.3,.1,.5,.8,1],"schwann":[.7,1,1.4,1.7,2],
}
OUT[22] = {"acinar":[(16,1)],"activated_stellate":[(33,.9)],"ductal":[(158,.8)]}
Y[23] = {
"acinar":[-.6,-.1,.5,.8,.2,-.4,-.6,0,.6,.3,-.3,-.6,.1,.5,-.2,-.5],
"activated_stellate":[-1,-.4,.3,.9,.2,-.6,-.9,0,.6],
"alpha":[-.5,-.2,.1,-.1,-.4,-.3,.1,.3,-.1,-.5,-.2,.2,0,-.4,-.2,.1,.3,-.1,-.5,-.2,.2,-.3,-.5,0,.3,-.1,-.4,-.2,.1,.3],
"beta":[-.6,-.2,.3,0,-.5,-.3,.1,.4,-.1,-.6,-.2,.3,-.3,-.5],
"delta":[-.6,-.2,.2,.3,-.1,-.5,-.3,.2],
"ductal":[-.7,.1,.7,1.3,1.8,1.2,.6,0,-.6,.3,.9,1.5,1.7,1.1,.5,-.2,-.7,.2,.8,1.4,1.8,1.3,.7,.1,.9,1.6],
"endothelial":[6.6,7.5,8,8.4,8.8,9.2,9.5],"gamma":[-.8,-.5,-.2,0,-.4,-.7],"epsilon":[-.5,-.2],
"macrophage":[3.9,4.3,4.7,5,5.3,5.6,6],"mast":[2.7,3,3.2,3.4,3.6,3.8],"quiescent_stellate":[0,.3,.6,.9,1.1],"schwann":[.5,1,1.5,1.9,2.3],
}
OUT[23] = {"activated_stellate":[(35,.9)],"acinar":[(14,.8)]}
Y[24] = {
"acinar":[-.6,-.1,.5,1,.3,-.4,-.6,0,.7,.4,-.3,-.6,.2,.9,-.2,-.5],
"activated_stellate":[-.8,-.3,.3,.9,.2,-.5,-.7,.1,.6],
"alpha":[-.6,-.3,0,-.2,-.5,-.4,0,.2,-.2,-.6,-.3,.1,-.1,-.5,-.3,0,.3,-.2,-.6,-.3,.1,-.3,-.6,-.1,.2,-.2,-.5,-.3,.1,.4],
"beta":[-.6,-.2,.3,0,-.5,-.3,.1,.4,-.1,-.6,-.2,.3,-.3,-.5],
"delta":[-.6,-.2,.3,.5,-.1,-.5,-.3,.2],
"ductal":[-.8,.2,1,1.9,2.7,2,1.1,.2,-.7,.5,1.4,2.3,2.8,1.8,.8,-.3,-.6,.6,1.5,2.4,2.6,1.6,.6,-.1,1.2,2.1],
"endothelial":[6,7.3,8,8.4,8.8,9.2,9.5],"gamma":[-.6,-.3,0,.2,-.2,-.5],"epsilon":[-.7,-.5,-.3],
"macrophage":[-.5,0,.5,1],"mast":[-.7,-.2,.3,.8,1.3,1.7],"quiescent_stellate":[-.2,.2,.6,1],"schwann":[0,.4,.8,1.2,1.5],
}
OUT[24] = {"ductal":[(155,-1)],"alpha":[(62,.7),(66,.6)]}

def rows(i):
    out = []
    for t in TYPES:
        ys = Y[i].get(t, BG[t])
        a, b = SPAN[t]
        n = len(ys)
        for p in PHASES:
            for k, v in enumerate(ys):
                out.append({"x": a + (((k + .5) / n + p) % 1) * (b - a), "y": v, "Cell type": t})
        for px, v in OUT[i].get(t, []):
            out.append({"x": px, "y": v, "Cell type": t})
    return pd.DataFrame(out)

W, H, STRIP, BELOW = 198, 95, 28, 12
AXIS_ROOM = [85, 40, 51, 40, 52]
panels = []
for i, title in enumerate(TITLES):
    dom = list(DOMAINS[i])
    ticks = TICKS[i]
    step = ticks[1] - ticks[0]
    k0 = int((dom[0] - ticks[0]) // step)
    k1 = int((dom[1] - ticks[0]) // step) + 1
    minors = [ticks[0] + (k + .5) * step for k in range(k0, k1 + 1)]
    minors = [m for m in minors if dom[0] < m < dom[1]]
    sx = alt.Scale(domain=[0, W], nice=False, zero=False)
    sy = alt.Scale(domain=dom, nice=False, zero=False)
    ax = dict(values=ticks, grid=False, domain=False, tickColor="#333333", tickSize=6, tickWidth=1.3,
              labelFontSize=19.5, labelColor="#4D4D4D", labelFont="Liberation Sans", labelPadding=7, labelFlush=False, labelOverlap=False,
              format="d" if all(float(t).is_integer() for t in ticks) else ".1f",
              labelExpr="replace(datum.label, '\u2212', '-')")
    if i == 10:
        ax.update(title="Loading", titleFontSize=26, titleFont="Liberation Sans", titleFontWeight="normal", titleColor="black", titlePadding=35)
    else:
        ax.update(title=None)
    yaxis = alt.Axis(**ax)
    yn = alt.Y("v:Q", scale=sy, axis=yaxis)
    xn = alt.X("v:Q", scale=sx, axis=None)
    gy1 = alt.Chart(pd.DataFrame({"v": minors})).mark_rule(color="#EBEBEB", strokeWidth=.8).encode(y=yn)
    gy2 = alt.Chart(pd.DataFrame({"v": ticks})).mark_rule(color="#EBEBEB", strokeWidth=1.6).encode(y=yn)
    gx1 = alt.Chart(pd.DataFrame({"v": GRID_MINOR_X})).mark_rule(color="#EBEBEB", strokeWidth=.8).encode(x=xn)
    gx2 = alt.Chart(pd.DataFrame({"v": GRID_MAJOR_X})).mark_rule(color="#EBEBEB", strokeWidth=1.6).encode(x=xn)
    pts = alt.Chart(rows(i)).mark_circle(size=23, opacity=.78, clip=True).encode(
        x=alt.X("x:Q", scale=sx, axis=None),
        y=alt.Y("y:Q", scale=sy, axis=yaxis),
        color=alt.Color("Cell type:N", scale=alt.Scale(domain=LEGEND_ORDER, range=LEGEND_COLORS), legend=alt.Legend(
            title="Cell type", orient="none", legendX=93, legendY=698, direction="horizontal", columns=5,
            symbolType="circle", symbolSize=336, symbolStrokeWidth=0, symbolOpacity=1, labelFontSize=21.4, labelFont="Liberation Sans",
            labelColor="black", labelOffset=26, rowPadding=37, columnPadding=25, gridAlign="each",
            titleOrient="left", titleFontSize=26.5, titleFont="Liberation Sans", titleFontWeight="normal", titleColor="black",
            titlePadding=25, titleAnchor="middle", titleBaseline="middle", labelLimit=400)),
    )
    zero = alt.Chart(pd.DataFrame({"v": [0]})).mark_rule(color="black", strokeWidth=1.5, strokeDash=[10, 8]).encode(y=yn)
    sdf = pd.DataFrame({"t": [title]})
    strip = alt.Chart(sdf).mark_rect(color="#E0E0E0").encode(x=alt.value(0), x2=alt.value(W), y=alt.value(-STRIP), y2=alt.value(0))
    txt = alt.Chart(sdf).mark_text(font="Liberation Sans", fontSize=18.6, color="#1A1A1A", baseline="middle", align="center").encode(
        x=alt.value(W / 2), y=alt.value(-STRIP / 2 + .5), text="t:N")
    # an empty box that reserves equal room beside and below each panel, so the grid steps stay even
    room = alt.Chart(sdf).mark_rect(opacity=0).encode(x=alt.value(-AXIS_ROOM[i % 5]), x2=alt.value(0), y=alt.value(0), y2=alt.value(H + BELOW))
    panels.append(alt.layer(gy1, gy2, gx1, gx2, pts, zero, strip, txt, room).properties(width=W, height=H))

chart = alt.concat(*panels, columns=5, spacing=alt.RowColnumber(column=12, row=.3)).properties(
    title=alt.TitleParams("Maxima (obj > -Inf) (1/2)", anchor="start", fontSize=32, font="Liberation Sans", fontWeight="normal", color="black", dx=85, offset=10),
    padding={"left": 4, "top": 4, "right": 0, "bottom": 0},
).configure_view(stroke="#333333", strokeWidth=1.3)

chart.save("out.html", embed_options={"renderer": "svg", "actions": False})
